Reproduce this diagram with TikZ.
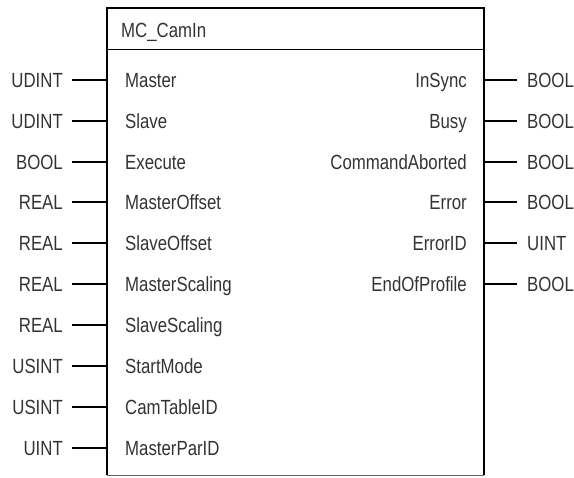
\documentclass[tikz,border=0pt]{standalone}
\usepackage{fontspec}
\setmainfont{Liberation Sans}[FakeStretch=0.82]
\begin{document}
\begin{tikzpicture}[x=1pt,y=-1pt,
  font=\fontsize{20.5}{24}\selectfont,
  lbl/.style={inner sep=0pt, text=black!80},
  pinline/.style={line width=2pt},
  frame/.style={line width=2pt},
  thinline/.style={line width=1pt}]
\useasboundingbox (0,0) rectangle (574,478);
\node[draw=none, inner sep=0pt, minimum width=377pt, minimum height=467pt, anchor=north west] (fb) at (107,8) {};
\coordinate (hl) at (107,50);
\coordinate (hr) at (484,50);
\draw[frame] (fb.south west) -- (fb.north west) -- (fb.north east) -- (fb.south east);
\draw[thinline, black!60] (fb.south west) -- (fb.south east);
\draw[thinline] (hl) -- (hr);
\node[lbl, anchor=base west] (title) at (121,37.3) {MC\_CamIn};
\foreach \n/\t/\yy [count=\i from 0] in {Master/UDINT/80, Slave/UDINT/121, Execute/BOOL/162, MasterOffset/REAL/202, SlaveOffset/REAL/243, MasterScaling/REAL/284, SlaveScaling/REAL/325, StartMode/USINT/366, CamTableID/USINT/407, MasterParID/UINT/448}{
  \node[lbl, anchor=base west] (in\i) at (125,\yy+7.3) {\n};
  \node[lbl, anchor=base east] (ti\i) at (63,\yy+7.3) {\t};
  \coordinate (pi\i) at (107,\yy);
  \draw[pinline, shorten <=9pt] (ti\i.east |- pi\i) -- (pi\i);
}
\foreach \n/\t/\yy [count=\i from 0] in {InSync/BOOL/80, Busy/BOOL/121, CommandAborted/BOOL/162, Error/BOOL/202, ErrorID/UINT/243, EndOfProfile/BOOL/284}{
  \node[lbl, anchor=base east] (out\i) at (467,\yy+7.3) {\n};
  \node[lbl, anchor=base west] (to\i) at (527,\yy+7.3) {\t};
  \coordinate (po\i) at (484,\yy);
  \draw[pinline, shorten <=10pt] (to\i.west |- po\i) -- (po\i);
}
\end{tikzpicture}
\end{document}
